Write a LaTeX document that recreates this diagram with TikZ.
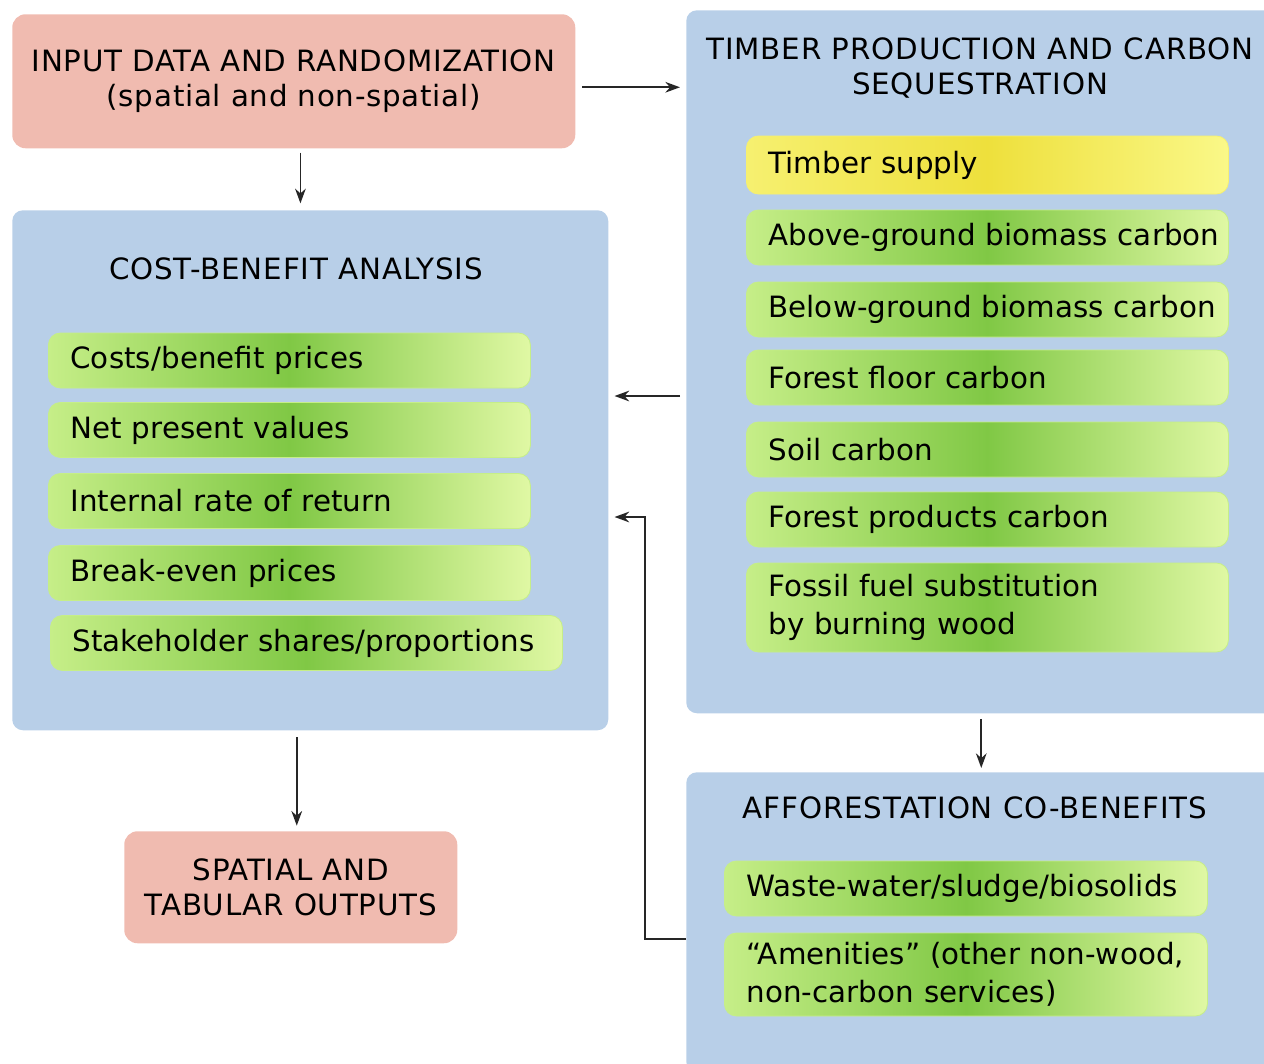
\documentclass[tikz,border=0pt]{standalone}
\usepackage{fontspec}
\setmainfont{DejaVu Sans}
\usepackage{xcolor}
\usepackage{tikz}
\usetikzlibrary{arrows.meta}

\definecolor{boxblue}{HTML}{B8CFE8}
\definecolor{boxpink}{HTML}{F0BBB0}
\definecolor{grnlight}{HTML}{C6EE88}
\definecolor{grndark}{HTML}{80C845}
\definecolor{grnpale}{HTML}{E0F8A4}
\definecolor{ylwlight}{HTML}{F6F070}
\definecolor{ylwdark}{HTML}{EEE03C}
\definecolor{ylwpale}{HTML}{FAF888}

\tikzset{
  panel/.style={fill=boxblue, rounded corners=8pt, anchor=north west, inner sep=0pt},
  endbox/.style={fill=boxpink, rounded corners=10pt, anchor=north west, align=center,
    font=\fontsize{22}{26.25}\selectfont\addfontfeatures{LetterSpace=2.5}},
  title/.style={align=center, inner sep=0pt, font=\fontsize{22}{26.25}\selectfont\addfontfeatures{LetterSpace=3}},
  item/.style={anchor=west, text width=#1, inner xsep=0pt, inner ysep=0pt,
    minimum height=41.25pt, rounded corners=9pt, draw=grnlight, line width=0.6pt,
    left color=grnlight, right color=grnpale, middle color=grndark, align=left,
    font=\fontsize{22}{28.5}\selectfont\addfontfeatures{LetterSpace=0.3},
    execute at begin node={\leftskip=16.5pt\relax}},
  yitem/.style={item=#1, draw=ylwlight, left color=ylwlight, right color=ylwpale, middle color=ylwdark},
  arr/.style={draw=black!85, line width=1.4pt, -{Stealth[length=11pt,width=8pt]}}
}

\begin{document}
\begin{tikzpicture}[x=0.75pt,y=0.75pt,yscale=-1,xscale=1]
\useasboundingbox (0,0) rectangle (1264,1064);

% Input and output boxes
\node [endbox, minimum width=422.25pt, minimum height=100.5pt] (input) at (12,14) {INPUT DATA AND RANDOMIZATION\\(spatial and non-spatial)};
\node [endbox, minimum width=249.75pt, minimum height=84pt] (outputs) at (124,831) {SPATIAL AND\\TABULAR OUTPUTS};

% Blue panels
\node [panel, minimum width=447pt, minimum height=390pt] (cba) at (12,210) {};
\node [panel, minimum width=442.5pt, minimum height=527.25pt] (tp) at (686,10) {};
\node [panel, minimum width=442.5pt, minimum height=225pt] (af) at (686,772) {};

% Panel titles
\node [title] (cbatitle) at (296,269) {COST-BENEFIT ANALYSIS};
\node [title] (tptitle) at (980,68) {TIMBER PRODUCTION AND CARBON\\SEQUESTRATION};
\node [title] (aftitle) at (975,808) {AFFORESTATION CO-BENEFITS};

% Cost-benefit items
\node [item=361.5pt] (costs) at (48,360.5) {Costs/benefit prices};
\node [item=361.5pt] (npv) at (48,430) {Net present values};
\node [item=361.5pt] (irr) at (48,501) {Internal rate of return};
\node [item=361.5pt] (breakeven) at (48,573) {Break-even prices};
\node [item=384pt] (shares) at (50,643) {Stakeholder shares/proportions};

% Timber and carbon items
\node [yitem=361.5pt, minimum height=43.5pt] (timber) at (746,165) {Timber supply};
\node [item=361.5pt] (abovec) at (746,237.5) {Above-ground biomass carbon};
\node [item=361.5pt] (belowc) at (746,309.5) {Below-ground biomass carbon};
\node [item=361.5pt] (floorc) at (746,377.5) {Forest floor carbon};
\node [item=361.5pt] (soilc) at (746,449.5) {Soil carbon};
\node [item=361.5pt] (prodc) at (746,519.5) {Forest products carbon};
\node [item=361.5pt, minimum height=66.75pt] (fossil) at (746,607.5) {Fossil fuel substitution\\by burning wood};

% Co-benefit items
\node [item=362.25pt] (waste) at (724,888.5) {Waste-water/sludge/biosolids};
\node [item=362.25pt, minimum height=62.25pt] (amenity) at (724,974.5) {“Amenities” (other non-wood,\\non-carbon services)};

% Connectors
\draw [arr, shorten <=5pt, shorten >=4.5pt] ([yshift=4.5pt]input.east) -- ([yshift=4.5pt]input.east -| tp.west);
\draw [arr, shorten <=3pt, shorten >=5pt] ([xshift=5pt]input.south) -- ([xshift=5pt]input.south |- cba.north);
\draw [arr, shorten <=4.5pt, shorten >=4.5pt] (tp.west |- 0,396) -- (cba.east |- 0,396);
\draw [arr, shorten <=4pt, shorten >=3pt] (tp.south) -- (af.north);
\coordinate (fbturn) at (645,939);
\draw [arr, shorten >=4.5pt] (af.west |- fbturn) -- (fbturn) |- (cba.east |- 0,517);
\draw [arr, shorten <=5pt, shorten >=4pt] ([xshift=4.5pt]outputs.north |- cba.south) -- ([xshift=4.5pt]outputs.north);

\end{tikzpicture}
\end{document}
